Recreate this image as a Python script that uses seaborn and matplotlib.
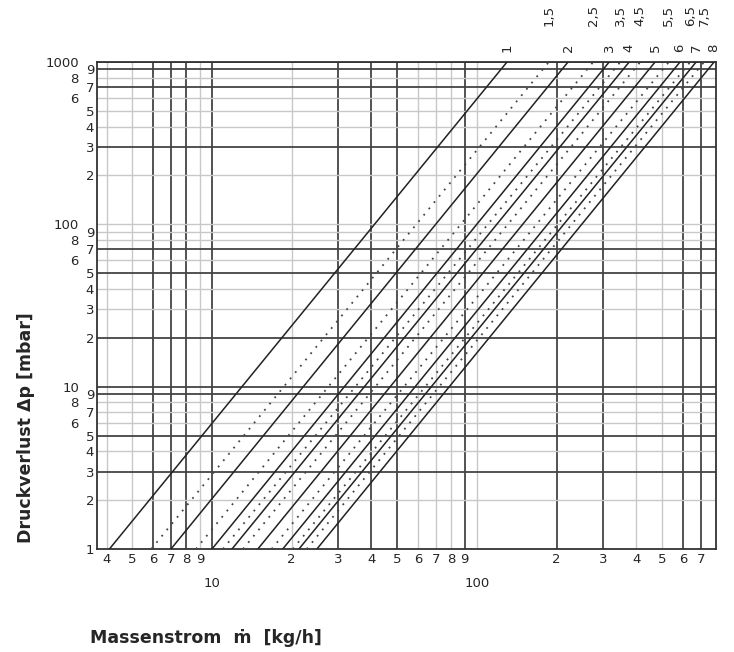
import numpy as np
import pandas as pd
import matplotlib
matplotlib.use('Agg')
import matplotlib.pyplot as plt
import matplotlib.transforms as mtransforms
import seaborn as sns

# Kennlinien: Massenstrom bei 1 mbar und bei 1000 mbar
kennzahl = ['1', '1,5', '2', '2,5', '3', '3,5', '4', '4,5', '5', '5,5', '6', '6,5', '7', '7,5', '8']
m_bei_1 = [4.1, 5.9, 7.0, 8.7, 10.0, 11.0, 11.9, 13.1, 14.9, 16.8, 18.5, 20.2, 21.3, 22.8, 24.9]
m_bei_1000 = [130, 187, 221, 275, 316, 348, 376, 414, 471, 531, 585, 639, 673, 721, 787]
dp_start = 1
dp_ende = 1000

# Achsen / Raster
x_major = [10, 100]
x_minor = [4, 5, 6, 7, 8, 9, 20, 30, 40, 50, 60, 70, 80, 90, 200, 300, 400, 500, 600, 700]
x_minor_labels = ['4', '5', '6', '7', '8', '9', '2', '3', '4', '5', '6', '7', '8', '9',
                  '2', '3', '4', '5', '6', '7']
y_major = [1, 10, 100, 1000]
y_minor = [2, 3, 4, 5, 6, 7, 8, 9, 20, 30, 40, 50, 60, 70, 80, 90,
           200, 300, 400, 500, 600, 700, 800, 900]
x_dunkel = [6, 7, 8, 10, 30, 40, 50, 90, 200, 300, 600, 700]
y_dunkel = [3, 5, 9, 10, 20, 50, 70, 300, 700, 900, 1000]

df = pd.DataFrame({
    'kennzahl': kennzahl * 2,
    'm': m_bei_1 + m_bei_1000,
    'dp': [dp_start] * len(kennzahl) + [dp_ende] * len(kennzahl),
})

sns.set_style('white')
plt.rcParams['font.family'] = ['DejaVu Sans']

fig = plt.figure(figsize=(7.34, 6.52), dpi=100)
ax = fig.add_axes([97 / 734, 1 - 549 / 652, 619 / 734, 487 / 652])
ax.set_xscale('log')
ax.set_yscale('log')
ax.set_xlim(3.68, 800)
ax.set_ylim(1, 1000)

# Raster
for v in x_major + x_minor:
    dark = v in x_dunkel
    ax.axvline(v, color='#444444' if dark else '#c8c8c8', lw=1.3 if dark else 1.0, zorder=1)
for v in y_major + y_minor:
    dark = v in y_dunkel
    ax.axhline(v, color='#444444' if dark else '#c8c8c8', lw=1.3 if dark else 1.0, zorder=1)

# Kennlinien
for k in kennzahl:
    sub = df[df.kennzahl == k]
    halb = ',' in k
    sns.lineplot(data=sub, x='m', y='dp', ax=ax, color='#222222' if not halb else '#444444',
                 lw=1.1 if not halb else 1.3, linestyle=(0, (1, 3.5)) if halb else '-',
                 zorder=3, legend=False)

# Beschriftung oben
trans = mtransforms.blended_transform_factory(ax.transData, ax.transAxes)
for k, m in zip(kennzahl, m_bei_1000):
    halb = ',' in k
    ax.text(m, 1.096 if halb else 1.029, k, transform=trans, rotation=90,
            ha='center', va='center', fontsize=9.5, clip_on=False)

# Ticks
ax.set_xticks(x_major)
ax.set_xticklabels(['10', '100'])
ax.set_xticks(x_minor, minor=True)
ax.set_xticklabels(x_minor_labels, minor=True)
ax.set_yticks(y_major)
ax.set_yticklabels(['1', '10', '100', '1000'])
ax.set_yticks(y_minor, minor=True)
ax.set_yticklabels([str(v)[0] for v in y_minor], minor=True)

ax.tick_params(which='both', length=0, labelsize=9.5)
for t in ax.xaxis.get_minor_ticks():
    t.set_pad(3)
for t in ax.xaxis.get_major_ticks():
    t.set_pad(20)
for t, v in zip(ax.yaxis.get_minor_ticks(), y_minor):
    t.set_pad(13 if str(v)[0] in ('6', '8') else 2)
for t, v in zip(ax.yaxis.get_major_ticks(), y_major):
    t.set_pad(2 if v == 1 else 13)

for s in ax.spines.values():
    s.set_color('#333333')
    s.set_linewidth(1.3)

ax.set_xlabel('Massenstrom  ṁ  [kg/h]', fontsize=12.5, fontweight='bold', ha='left')
ax.xaxis.set_label_coords(-0.012, -0.165)
ax.set_ylabel('Druckverlust \u0394p [mbar]', fontsize=12.5, fontweight='bold')
ax.yaxis.set_label_coords(-0.1, 0.25)

plt.savefig('out.png', dpi=100)
